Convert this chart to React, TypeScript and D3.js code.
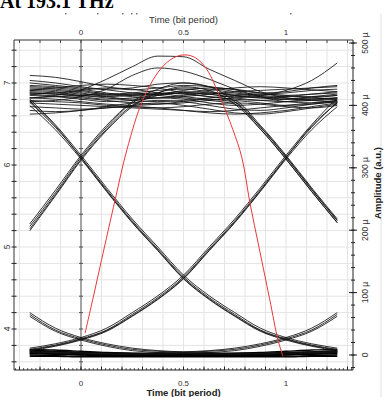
import React from 'react';
import * as d3 from 'd3';

// Time samples (bit periods) shared by every eye trace
const timeGrid = [-0.25, -0.125, 0, 0.125, 0.25, 0.375, 0.5, 0.625, 0.75, 0.875, 1, 1.125, 1.25];

// Amplitudes in micro a.u. (right axis), one row per trace
const fallingAtZero = [
  [405, 365, 317, 265, 215, 170, 125, 92, 65, 40, 26, 16, 9],
  [410, 369, 320, 268, 218, 173, 128, 95, 68, 43, 28, 18, 11],
  [400, 361, 314, 262, 212, 167, 122, 89, 62, 38, 24, 14, 7],
  [407, 367, 316, 263, 213, 168, 123, 90, 63, 39, 25, 15, 8],
];

const risingAtOne = [
  [9, 16, 26, 40, 65, 92, 125, 170, 215, 265, 317, 365, 405],
  [11, 18, 28, 43, 68, 95, 128, 173, 218, 268, 320, 369, 412],
  [7, 14, 24, 38, 62, 89, 122, 167, 212, 262, 314, 361, 398],
  [8, 15, 25, 39, 63, 90, 123, 168, 213, 263, 316, 367, 404],
];

const risingAtZero = [
  [206, 260, 317, 365, 404, 420, 428, 426, 420, 416, 414, 414, 416],
  [202, 257, 314, 362, 400, 416, 422, 420, 416, 412, 410, 410, 412],
  [210, 264, 320, 368, 406, 426, 436, 430, 406, 366, 318, 266, 216],
  [199, 255, 312, 360, 398, 420, 430, 424, 402, 362, 314, 262, 212],
];

const fallingAtOne = [
  [418, 420, 424, 428, 426, 420, 414, 410, 405, 365, 317, 265, 215],
  [412, 414, 416, 418, 418, 416, 412, 408, 402, 362, 314, 262, 212],
  [424, 428, 432, 434, 432, 428, 420, 414, 408, 368, 320, 268, 218],
];

const decayLeft = [
  [65, 40, 26, 16, 9, 6, 4, 3, 2, 2, 3, 4, 5],
  [68, 43, 28, 18, 11, 7, 5, 4, 3, 3, 4, 5, 6],
  [62, 38, 24, 14, 7, 4, 2, 1, 1, 1, 2, 3, 4],
];

const riseRight = [
  [5, 4, 3, 2, 2, 3, 4, 6, 9, 16, 26, 40, 65],
  [6, 5, 4, 3, 3, 4, 5, 7, 11, 18, 28, 43, 68],
  [4, 3, 2, 1, 1, 1, 2, 4, 7, 14, 24, 38, 62],
];

const zeroLevel = [
  [9, 8, 6, 4, 3, 2, 2, 2, 3, 4, 6, 8, 9],
  [6, 5, 4, 3, 2, 1, 1, 1, 2, 3, 4, 5, 6],
  [4, 3, 2, 1, 0, 0, 0, 0, 0, 1, 2, 3, 4],
  [2, 1, 0, -1, -1, -1, -1, -1, -1, -1, 0, 1, 2],
  [0, -1, -2, -2, -2, -2, -2, -2, -2, -2, -2, -1, 0],
  [-2, -2, -3, -3, -3, -3, -3, -3, -3, -3, -3, -2, -2],
  [8, 6, 4, 3, 2, 1, 1, 1, 1, 2, 3, 5, 7],
  [3, 2, 1, 0, 0, -1, -1, -1, 0, 0, 1, 2, 3],
];

const oneLevel = [
  [448, 445, 438, 430, 425, 428, 432, 430, 425, 420, 422, 428, 432],
  [440, 436, 430, 426, 428, 434, 436, 430, 422, 418, 420, 424, 426],
  [436, 432, 428, 425, 420, 418, 420, 424, 428, 430, 428, 425, 422],
  [432, 430, 426, 420, 416, 418, 424, 428, 426, 420, 416, 418, 420],
  [430, 428, 424, 418, 414, 412, 414, 418, 422, 424, 426, 428, 430],
  [428, 426, 422, 418, 420, 424, 426, 422, 416, 412, 414, 418, 422],
  [426, 424, 420, 414, 410, 412, 416, 420, 418, 414, 410, 412, 416],
  [424, 422, 418, 416, 418, 420, 418, 414, 410, 408, 410, 414, 418],
  [422, 420, 416, 412, 408, 406, 408, 412, 416, 418, 416, 412, 410],
  [420, 418, 414, 410, 412, 416, 420, 418, 412, 408, 406, 408, 412],
  [418, 415, 412, 408, 404, 402, 404, 408, 412, 414, 412, 408, 405],
  [416, 414, 410, 406, 408, 412, 410, 404, 400, 402, 406, 410, 412],
  [412, 410, 406, 402, 400, 402, 406, 410, 408, 404, 400, 402, 406],
  [408, 406, 404, 400, 398, 396, 398, 402, 404, 402, 398, 396, 400],
  [404, 402, 400, 398, 396, 394, 392, 390, 392, 396, 400, 404, 408],
  [398, 396, 394, 396, 400, 404, 400, 394, 388, 386, 390, 396, 402],
  [392, 390, 392, 396, 398, 396, 392, 388, 386, 388, 392, 398, 404],
  [386, 388, 392, 398, 404, 408, 406, 400, 394, 392, 396, 402, 406],
  [420, 418, 416, 414, 416, 418, 420, 418, 414, 416, 424, 440, 468],
];

const overshoot = [
  [412, 416, 425, 442, 462, 479, 478, 458, 440, 422, 412, 408, 410],
  [406, 408, 414, 426, 448, 460, 455, 442, 426, 414, 406, 404, 408],
];

// Red single pulse: [time, amplitude]
const redPulse: [number, number][] = [
  [0.02, 35], [0.06, 93], [0.1, 152], [0.166, 248], [0.224, 329], [0.302, 409],
  [0.385, 457], [0.45, 476], [0.507, 481], [0.56, 476], [0.615, 457], [0.678, 413],
  [0.741, 361], [0.785, 316], [0.824, 244], [0.87, 170], [0.92, 90], [0.961, 24], [0.985, -2],
];

const timeTicks = [0, 0.5, 1];
const timeTickLabels = ['0', '0.5', '1'];
const leftTicks = [4, 5, 6, 7];
const ampTicks = [0, 100, 200, 300, 400, 500];
const ampTickLabels = ['0', '100 µ', '200 µ', '300 µ', '400 µ', '500 µ'];

const W = 385;
const H = 397;
const frame = { left: 14, right: 353, top: 40, bottom: 370 };
const sans = 'Liberation Sans, Arial, sans-serif';

const App = () => {
  const x = d3.scaleLinear().domain([0, 1]).range([81, 286]);
  const yAmp = d3.scaleLinear().domain([0, 500]).range([355, 43]);
  const yLeft = d3.scaleLinear().domain([4, 7]).range([329, 83]);

  const trace = d3.line<number>()
    .x((_, i) => x(timeGrid[i]))
    .y(d => yAmp(d))
    .curve(d3.curveMonotoneX);

  const redLine = d3.line<[number, number]>()
    .x(d => x(d[0]))
    .y(d => yAmp(d[1]))
    .curve(d3.curveCatmullRom);

  const vGrid = d3.range(-3, 14).map(i => i / 10);
  const hGrid = d3.range(36, 76, 2).map(i => i / 10);
  const bottomMinor = d3.range(-16, 67).map(i => i / 50);
  const ampMinor = d3.range(-20, 501, 20);

  const eyeTraces = [
    ...oneLevel, ...overshoot, ...fallingAtZero, ...risingAtOne,
    ...risingAtZero, ...fallingAtOne, ...decayLeft, ...riseRight,
  ];

  return (
    <svg width={W} height={H} style={{ position: 'absolute', left: 0, top: 0, background: '#fff' }}>
      <text x={0} y={8} fontFamily="Liberation Serif, Times New Roman, serif" fontWeight="bold" fontSize={20} fill="#000">
        At 193.1 THz
      </text>
      {/* cut-off remnants of the line below the title */}
      {[65, 97, 122, 131, 136, 290].map(px => (
        <rect key={px} x={px} y={13} width={1.5} height={1.5} fill="#777" />
      ))}
      <line x1={381} x2={381} y1={13} y2={H} stroke="#e2e2e2" />

      {/* grid */}
      {vGrid.map(t => (
        <line key={'vg' + t} x1={x(t)} x2={x(t)} y1={frame.top} y2={frame.bottom} stroke="#e4e4e4" />
      ))}
      {hGrid.map(v => (
        <line key={'hg' + v} x1={frame.left} x2={frame.right} y1={yLeft(v)} y2={yLeft(v)} stroke="#e4e4e4" />
      ))}

      {/* inner axis at t = 0 */}
      <line x1={x(0)} x2={x(0)} y1={frame.top} y2={frame.bottom} stroke="#8a8a8a" strokeWidth={1.5} />
      {hGrid.map(v => (
        <line key={'it' + v} x1={x(0) - 2} x2={x(0) + 2} y1={yLeft(v)} y2={yLeft(v)} stroke="#555" />
      ))}

      <defs>
        <clipPath id="plotClip">
          <rect x={frame.left} y={frame.top} width={frame.right - frame.left} height={frame.bottom - frame.top} />
        </clipPath>
      </defs>

      <g clipPath="url(#plotClip)" fill="none">
        {zeroLevel.map((d, i) => (
          <path key={'z' + i} d={trace(d) || ''} stroke="#000" strokeWidth={1.3} />
        ))}
        {eyeTraces.map((d, i) => (
          <path key={i} d={trace(d) || ''} stroke="#111" strokeWidth={0.95} strokeOpacity={0.9} />
        ))}
        <path d={redLine(redPulse) || ''} stroke="#e8383a" strokeWidth={1} />
      </g>

      {/* frame: top, left, bottom, right axes */}
      <line x1={frame.left} x2={frame.right} y1={frame.top} y2={frame.top} stroke="#333" />
      <line x1={frame.left} x2={frame.left} y1={frame.top} y2={frame.bottom} stroke="#333" />
      <line x1={frame.left} x2={frame.right} y1={frame.bottom} y2={frame.bottom} stroke="#222" strokeWidth={1.2} />
      <line x1={frame.right} x2={frame.right} y1={frame.top} y2={frame.bottom} stroke="#222" />

      {/* top axis */}
      {vGrid.map(t => (
        <line key={'tt' + t} x1={x(t)} x2={x(t)} y1={frame.top} y2={frame.top + 3} stroke="#444" />
      ))}
      {timeTicks.map((t, i) => (
        <text key={'tl' + t} x={x(t)} y={34.5} textAnchor="middle" fontFamily={sans} fontSize={8} fill="#333">
          {timeTickLabels[i]}
        </text>
      ))}
      <text x={x(0.5)} y={23} textAnchor="middle" fontFamily={sans} fontSize={9.5} fill="#333">Time (bit period)</text>

      {/* bottom axis */}
      {bottomMinor.map(t => (
        <line key={'bm' + t} x1={x(t)} x2={x(t)} y1={frame.bottom} y2={frame.bottom - 1.8} stroke="#222" strokeWidth={0.9} />
      ))}
      {vGrid.map(t => (
        <line key={'bt' + t} x1={x(t)} x2={x(t)} y1={frame.bottom} y2={frame.bottom - 3.5} stroke="#222" />
      ))}
      {timeTicks.map((t, i) => (
        <text key={'bl' + t} x={x(t)} y={385.5} textAnchor="middle" fontFamily={sans} fontSize={8} fill="#333">
          {timeTickLabels[i]}
        </text>
      ))}
      <text x={x(0.5)} y={395.5} textAnchor="middle" fontFamily={sans} fontWeight="bold" fontSize={9.5} fill="#222">
        Time (bit period)
      </text>

      {/* left axis */}
      {hGrid.map(v => (
        <line key={'lt' + v} x1={frame.left - 2.5} x2={frame.left + 2.5} y1={yLeft(v)} y2={yLeft(v)} stroke="#222" />
      ))}
      {leftTicks.map(v => (
        <text key={'ll' + v} transform={`translate(6.5,${yLeft(v)}) rotate(-90)`} textAnchor="middle"
          dominantBaseline="central" fontFamily={sans} fontSize={8.5} fill="#333">
          {v}
        </text>
      ))}

      {/* right axis */}
      {ampMinor.map(v => (
        <line key={'rm' + v} x1={frame.right - 2} x2={frame.right + 2} y1={yAmp(v)} y2={yAmp(v)} stroke="#222" />
      ))}
      {ampTicks.map((v, i) => (
        <g key={'ra' + v}>
          <line x1={frame.right - 4} x2={frame.right + 4} y1={yAmp(v)} y2={yAmp(v)} stroke="#222" />
          <text transform={`translate(365,${yAmp(v)}) rotate(-90)`} textAnchor="middle" dominantBaseline="central"
            fontFamily={sans} fontSize={8.5} fill="#333">
            {ampTickLabels[i]}
          </text>
        </g>
      ))}
      <text transform="translate(377.5,183) rotate(-90)" textAnchor="middle" dominantBaseline="central"
        fontFamily={sans} fontWeight="bold" fontSize={9.5} fill="#222">
        Amplitude (a.u.)
      </text>
    </svg>
  );
};

export default App;
